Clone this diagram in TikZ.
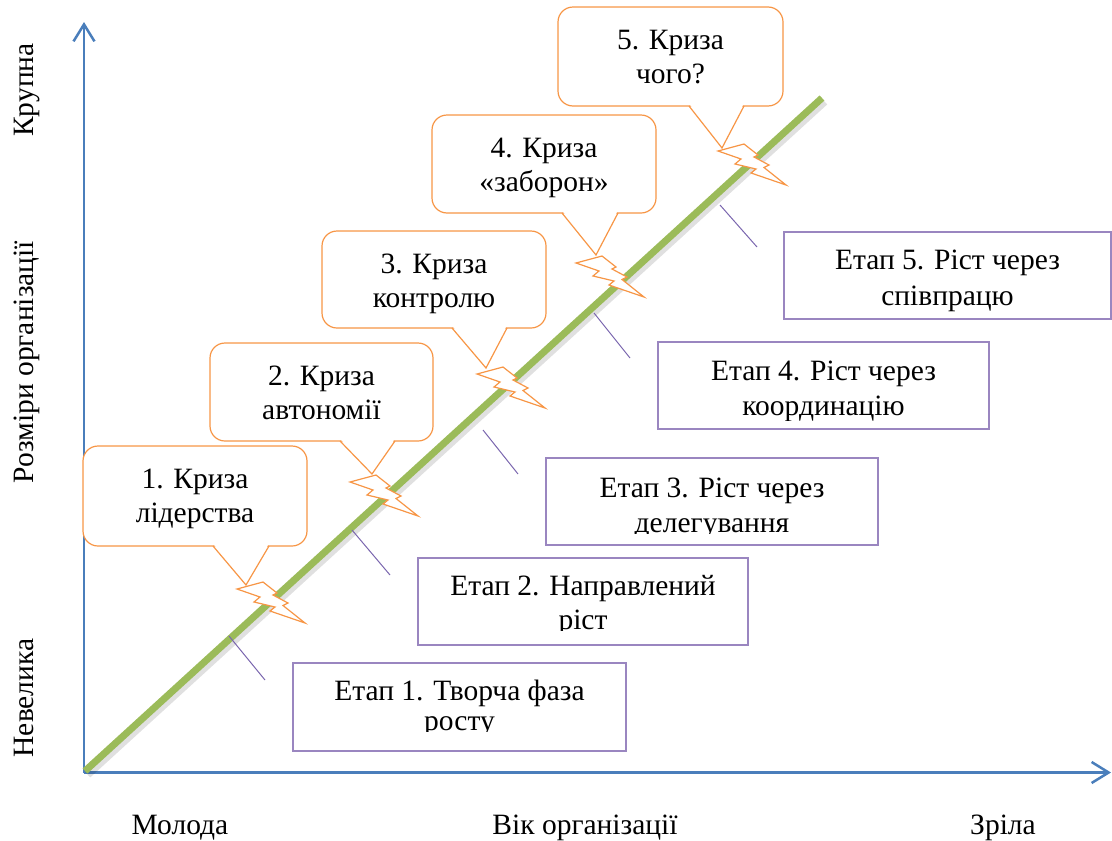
\documentclass[tikz,border=0pt]{standalone}
\usepackage{fontspec}
\setmainfont{Liberation Serif}
\usetikzlibrary{arrows.meta}
\definecolor{axisblue}{HTML}{4A7EBB}
\definecolor{lgreen}{HTML}{9BBB59}
\definecolor{corange}{HTML}{F79646}
\definecolor{bpurple}{HTML}{9A86C0}
\definecolor{tpurple}{HTML}{7A66AE}
\begin{document}
\begin{tikzpicture}[x=1pt,y=-1pt,
  txt/.style={font=\fontsize{29.5}{34}\selectfont, inner sep=0pt, anchor=base},
  vtxt/.style={txt, rotate=90},
  axisline/.style={draw=axisblue, line width=2.5pt, -{Straight Barb[length=17pt,width=21pt,line width=2.5pt]}},
  growth/.style={draw=lgreen, line width=7pt},
  gshadow/.style={draw=black, opacity=0.12, line width=8pt},
  tick/.style={draw=tpurple, line width=1pt},
  stagebox/.style={draw=bpurple, line width=1.2pt, fill=white},
  callbox/.style={draw=corange, line width=1.2pt, fill=white, rounded corners=15pt},
  callptr/.style={draw=corange, line width=1.2pt},
  bolt/.style={draw=corange, line width=1.2pt, fill=white, line join=miter}
]
\useasboundingbox (0,0) rectangle (1112,841);

% axes
\coordinate (O) at (84,772.5);
\coordinate (ytop) at (84,22);
\coordinate (xend) at (1111,772.5);
\draw[axisline] (O) -- (ytop);
\draw[axisline] (O) -- (xend);

% axis labels
\node[txt] (molod) at (180,834) {Молода};
\node[txt] (vik) at (585,834) {Вік організації};
\node[txt] (zrila) at (1003,834) {Зріла};
\node[vtxt] (nevel) at (33,698) {Невелика};
\node[vtxt] (rozm) at (33,362) {Розміри організації};
\node[vtxt] (krup) at (33,90) {Крупна};

% growth line
\coordinate (gs) at (85,771);
\coordinate (ge) at (822,98);
\draw[gshadow] ([shift={(2.5,3.5)}]gs) -- ([shift={(2.5,3.5)}]ge);
\draw[growth] (gs) -- (ge);

% ticks
\draw[tick] (229,636) -- (265,680);
\draw[tick] (352,530) -- (390,575);
\draw[tick] (483,430) -- (518,474);
\draw[tick] (594,313) -- (630,358);
\draw[tick] (720,205) -- (757,247);

% lightning bolts
\foreach \bx/\by [count=\i] in {237/589, 350/482, 477/374, 576/263, 718/151}{
  \draw[bolt, shift={(\bx,\by)}] (0,0) -- (26,-7) -- (40,4) -- (36,6) -- (51,14) -- (46,16.5)
     -- (68,34) -- (33,22) -- (38,18) -- (17,13) -- (23,8) -- cycle;
}

% stage boxes
\foreach \x/\y/\w/\h/\la/\lb/\ba/\bb/\cl [count=\i] in {
  293/663/333/88/{Етап 1. Творча фаза}/{росту}/700/730/731,
  418/558/330/87/{Етап 2. Направлений}/{ріст}/595/629/630,
  546/458/332/87/{Етап 3. Ріст через}/{делегування}/497/532/533,
  658/342/331/87/{Етап 4. Ріст через}/{координацію}/380/415/420,
  784/232/327/87/{Етап 5. Ріст через}/{співпрацю}/269/305/315}{
  \path[stagebox] (\x,\y) rectangle ++(\w,\h);
  \node[txt] (stagea\i) at ({\x+\w/2},\ba) {\la};
  \begin{scope}
    \clip (\x,\y) rectangle ({\x+\w},\cl);
    \node[txt] (stageb\i) at ({\x+\w/2},\bb) {\lb};
  \end{scope}
}

% callouts
\foreach \xa/\ya/\xb/\yb/\pl/\pr/\tx/\ty/\la/\lb [count=\i] in {
  83/446/307/546/213/269/246/585/{1. Криза}/{лідерства},
  210/343/433/441/340/395/372/474/{2. Криза}/{автономії},
  322/231/546/328/452/507/486/368/{3. Криза}/{контролю},
  432/115/656/213/562/618/596/255/{4. Криза}/{«заборон»},
  558/7/783/106/689/744/722/148/{5. Криза}/{чого?}}{
  \path[callbox] (\xa,\ya) rectangle (\xb,\yb);
  \fill[white] ({\pl+0.8},{\yb-1.5}) -- (\tx,\ty) -- ({\pr-0.8},{\yb-1.5}) -- cycle;
  \draw[callptr] (\pl,\yb) -- (\tx,\ty) -- (\pr,\yb);
  \node[txt] (crisisa\i) at ({(\xa+\xb)/2},{\ya+42}) {\la};
  \node[txt] (crisisb\i) at ({(\xa+\xb)/2},{\ya+76}) {\lb};
}
\end{tikzpicture}
\end{document}
